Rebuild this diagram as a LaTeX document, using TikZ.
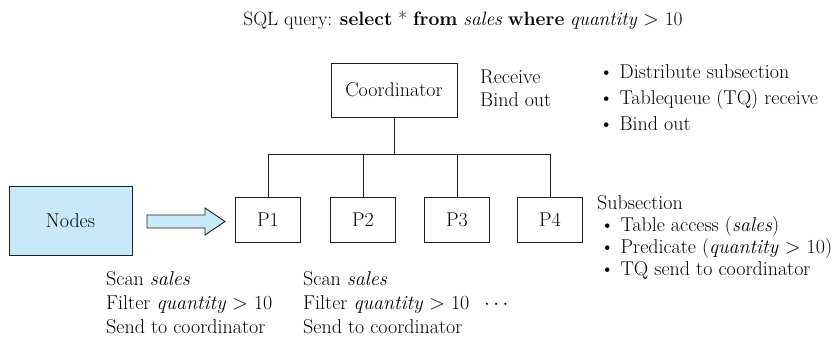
\documentclass[tikz,border=0pt]{standalone}
\usetikzlibrary{shapes.arrows}
\definecolor{nodeblue}{RGB}{200,233,247}
\definecolor{ink}{RGB}{30,30,30}
\begin{document}
\begin{tikzpicture}[x=1pt,y=-1pt,
  box/.style={draw=ink, line width=0.9pt, inner sep=0pt, text=black, font=\fontsize{20}{24}\selectfont},
  pbox/.style={box, minimum width=65pt, minimum height=45pt},
  txt/.style={inner sep=0pt, align=left, anchor=north west, text=black},
  wire/.style={draw=ink, line width=0.9pt}]
\useasboundingbox (0,0) rectangle (836,340);

% title
\node[inner sep=0pt, anchor=base, text=black, font=\fontsize{19.3}{22}\selectfont] (title) at (463,25)
  {SQL query: \textbf{select} * \textbf{from} \textit{sales} \textbf{where} \textit{quantity} $>$ 10};

% coordinator
\node[box, minimum width=126pt, minimum height=54pt] (coord) at (394,90) {Coordinator};
\node[txt, font=\fontsize{20}{23}\selectfont] (recv) at (480,69.3) {Receive\\Bind out};
\node[txt, font=\fontsize{20}{26}\selectfont] (cbul) at (599,64)
  {\textbullet\ Distribute subsection\\\textbullet\ Tablequeue (TQ) receive\\\textbullet\ Bind out};

% processes
\node[pbox] (p1) at (268,219.5) {P1};
\node[pbox] (p2) at (363,219.5) {P2};
\node[pbox] (p3) at (457,219.5) {P3};
\node[pbox] (p4) at (550,219.5) {P4};

% bus
\coordinate (bus) at (0,154);
\draw[wire] (coord.south) -- (coord.south |- bus);
\draw[wire] (p1.north) -- (p1.north |- bus) -- (p4.north |- bus) -- (p4.north);
\draw[wire] (p2.north) -- (p2.north |- bus);
\draw[wire] (p3.north) -- (p3.north |- bus);

% nodes and block arrow
\node[box, fill=nodeblue, minimum width=123pt, minimum height=69pt] (nodes) at (70.5,220.5) {Nodes};
\coordinate (arrtail) at (147,221.5);
\draw[wire, fill=nodeblue, line join=miter] (arrtail) ++(0,-6.5) -- ++(58,0) -- ++(0,-7) -- ++(20,13.5)
  -- ++(-20,13.5) -- ++(0,-7) -- ++(-58,0) -- cycle;

% subsection text
\node[txt, font=\fontsize{20}{22}\selectfont] (subs) at (597,195)
  {Subsection\\
   \hspace*{3pt}\textbullet\ Table access (\textit{sales})\\
   \hspace*{3pt}\textbullet\ Predicate (\textit{quantity} $>$ 10)\\
   \hspace*{3pt}\textbullet\ TQ send to coordinator};

% scan columns
\node[txt, font=\fontsize{20}{24}\selectfont] (scan1) at (106,271)
  {Scan \textit{sales}\\Filter \textit{quantity} $>$ 10\\Send to coordinator};
\node[txt, font=\fontsize{20}{24}\selectfont] (scan2) at (303,271)
  {Scan \textit{sales}\\Filter \textit{quantity} $>$ 10\\Send to coordinator};
\node[inner sep=0pt, anchor=base west, text=black, font=\fontsize{20}{24}\selectfont] (dots) at (484,309) {$\cdots$};
\end{tikzpicture}
\end{document}
